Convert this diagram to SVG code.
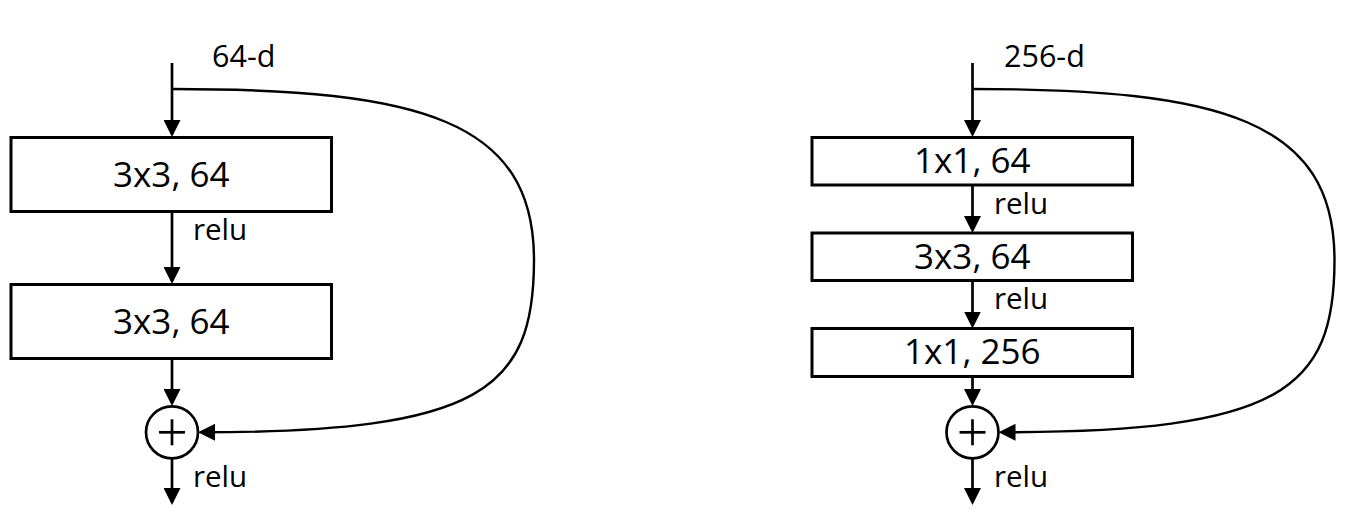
<svg xmlns="http://www.w3.org/2000/svg" width="1349" height="530" viewBox="0 0 1349 530">
<style>
.box{fill:#fff;stroke:#000;stroke-width:3}
.lbl{font-family:"Open Sans","Noto Sans",sans-serif;font-size:35px;fill:#000;text-anchor:middle}
.sm{font-family:"Open Sans","Noto Sans",sans-serif;font-size:29.5px;fill:#000}
.dim{font-family:"Open Sans","Noto Sans",sans-serif;font-size:30.5px;fill:#000}
.ln{fill:none;stroke:#000;stroke-width:2.7;marker-end:url(#ah)}
.cv{fill:none;stroke:#000;stroke-width:2.4;marker-end:url(#ah)}
.sum{fill:#fff;stroke:#000;stroke-width:2.7}
.plus{stroke:#000;stroke-width:2.7}
</style>
<defs>
<marker id="ah" markerUnits="userSpaceOnUse" markerWidth="17" markerHeight="17" viewBox="0 0 17 17" refX="14" refY="8.5" orient="auto">
<path d="M0,0 L17,8.5 L0,17 z" fill="#000"/>
</marker>
</defs>
<rect width="1349" height="530" fill="#fff"/>
<g id="connectors">
<path class="ln" d="M172,63 L172,134"/>
<path class="ln" d="M172,211.5 L172,281"/>
<path class="ln" d="M172,358.5 L172,403"/>
<path class="ln" d="M172,458.5 L172,502"/>
<path class="cv" d="M172,89 C420,89 534,120 534,260 C534,390 480,432.3 201,432.3"/>
<path class="ln" d="M972.5,63 L972.5,134"/>
<path class="ln" d="M972.5,185 L972.5,230"/>
<path class="ln" d="M972.5,280.5 L972.5,325.5"/>
<path class="ln" d="M972.5,376.5 L972.5,403"/>
<path class="ln" d="M972.5,458.5 L972.5,502"/>
<path class="cv" d="M972.5,89 C1220.5,89 1334.5,120 1334.5,260 C1334.5,390 1280.5,432.3 1001.5,432.3"/>
</g>
<g id="label-64d"><text class="dim" x="212" y="67">64-d</text></g>
<g id="left-conv1">
<rect class="box" x="11" y="137.5" width="320.5" height="74"/>
<text class="lbl" x="171.3" y="186.7">3x3, 64</text>
</g>
<g id="left-relu1"><text class="sm" x="193" y="240">relu</text></g>
<g id="left-conv2">
<rect class="box" x="11" y="284.5" width="320.5" height="74"/>
<text class="lbl" x="171.3" y="334">3x3, 64</text>
</g>
<g id="left-sum">
<circle class="sum" cx="172" cy="432.3" r="26"/>
<line class="plus" x1="159" y1="432.3" x2="185" y2="432.3"/>
<line class="plus" x1="172" y1="419.3" x2="172" y2="445.3"/>
</g>
<g id="left-relu-out"><text class="sm" x="193" y="486.5">relu</text></g>
<g id="label-256d"><text class="dim" x="1004" y="67">256-d</text></g>
<g id="right-conv1">
<rect class="box" x="812" y="137.5" width="320.5" height="47.5"/>
<text class="lbl" x="972.3" y="172.7">1x1, 64</text>
</g>
<g id="right-relu1"><text class="sm" x="994" y="214">relu</text></g>
<g id="right-conv2">
<rect class="box" x="812" y="233" width="320.5" height="47.5"/>
<text class="lbl" x="972.3" y="268.5">3x3, 64</text>
</g>
<g id="right-relu2"><text class="sm" x="994" y="309.3">relu</text></g>
<g id="right-conv3">
<rect class="box" x="812" y="328.5" width="320.5" height="48"/>
<text class="lbl" x="972.3" y="363.5">1x1, 256</text>
</g>
<g id="right-sum">
<circle class="sum" cx="972.5" cy="432.3" r="26"/>
<line class="plus" x1="959.5" y1="432.3" x2="985.5" y2="432.3"/>
<line class="plus" x1="972.5" y1="419.3" x2="972.5" y2="445.3"/>
</g>
<g id="right-relu-out"><text class="sm" x="994" y="486.5">relu</text></g>
</svg>
